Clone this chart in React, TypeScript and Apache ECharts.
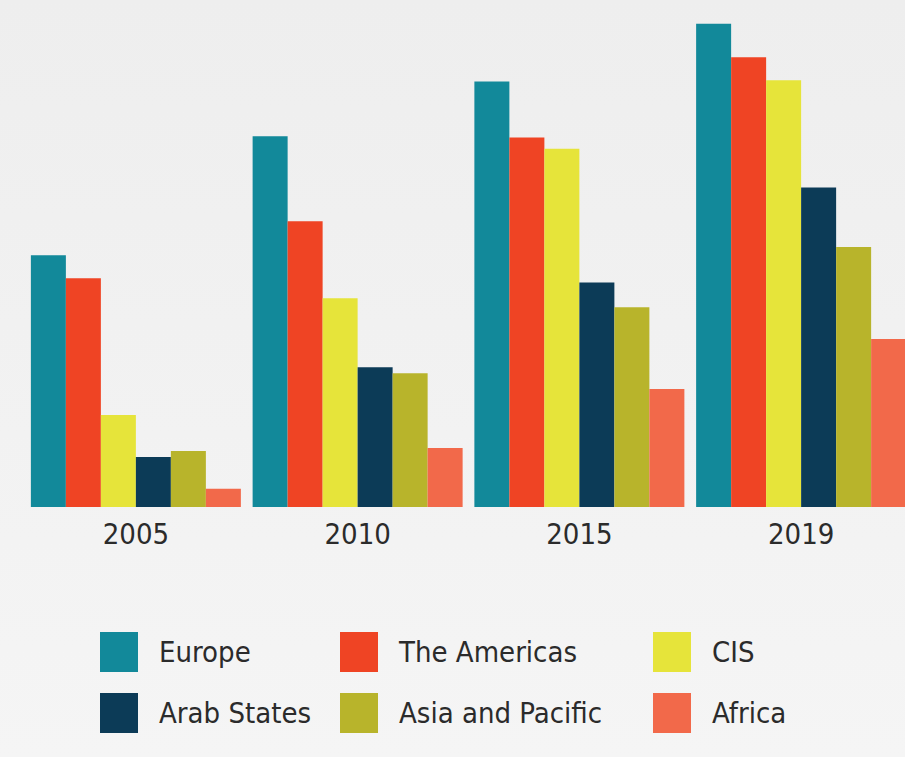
import React, { useEffect, useRef } from "react";
import * as echarts from "echarts";

const years = ["2005", "2010", "2015", "2019"];
const europe = [42.7, 62.9, 72.2, 82.0];
const americas = [38.8, 48.5, 62.7, 76.3];
const cis = [15.6, 35.4, 60.8, 72.4];
const arabStates = [8.5, 23.7, 38.1, 54.2];
const asiaPacific = [9.5, 22.7, 33.9, 44.1];
const africa = [3.1, 10.0, 20.0, 28.5];

const seriesNames = ["Europe", "The Americas", "CIS", "Arab States", "Asia and Pacific", "Africa"];
const seriesData = [europe, americas, cis, arabStates, asiaPacific, africa];
const colors = ["#12899a", "#ef4424", "#e6e43a", "#0c3b57", "#b8b42b", "#f2694a"];

const FONT = "'DejaVu Sans Condensed', 'DejaVu Sans', sans-serif";

export default function App() {
  const ref = useRef<HTMLDivElement>(null);
  useEffect(() => {
    if (!ref.current) return;
    const chart = echarts.init(ref.current, null, { renderer: "svg" });
    const legendCommon = {
      orient: "vertical",
      itemWidth: 38,
      itemHeight: 40,
      itemGap: 21,
      icon: "rect",
      selectedMode: false,
      textStyle: {
        fontFamily: FONT,
        fontSize: 29,
        color: "#2b2b2b",
        padding: [0, 0, 6, 16],
      },
    };
    chart.setOption({
      animation: false,
      backgroundColor: new echarts.graphic.LinearGradient(0, 0, 0, 1, [
        { offset: 0, color: "#eeeeee" },
        { offset: 1, color: "#f5f5f5" },
      ]),
      color: colors,
      grid: { left: 25, width: 887, top: 6, bottom: 250, containLabel: false },
      xAxis: {
        type: "category",
        data: years,
        axisLine: { show: false },
        axisTick: { show: false },
        axisLabel: {
          fontFamily: FONT,
          fontSize: 29,
          color: "#2b2b2b",
          margin: 12,
        },
      },
      yAxis: {
        type: "value",
        min: 0,
        max: 85,
        show: false,
        splitLine: { show: false },
      },
      legend: [
        { ...legendCommon, left: 95, top: 627, data: ["Europe", "Arab States"] },
        { ...legendCommon, left: 335, top: 627, data: ["The Americas", "Asia and Pacific"] },
        { ...legendCommon, left: 648, top: 627, data: ["CIS", "Africa"] },
      ],
      series: seriesNames.map((name, i) => ({
        name,
        type: "bar",
        data: seriesData[i],
        barWidth: 35,
        barGap: "0%",
        itemStyle: { color: colors[i] },
      })),
    });
    return () => chart.dispose();
  }, []);
  return (
    <div
      style={{
        position: "absolute",
        left: 0,
        top: 0,
        width: 905,
        height: 757,
        overflow: "hidden",
      }}
    >
      <div ref={ref} style={{ width: 915, height: 757 }} />
    </div>
  );
}
